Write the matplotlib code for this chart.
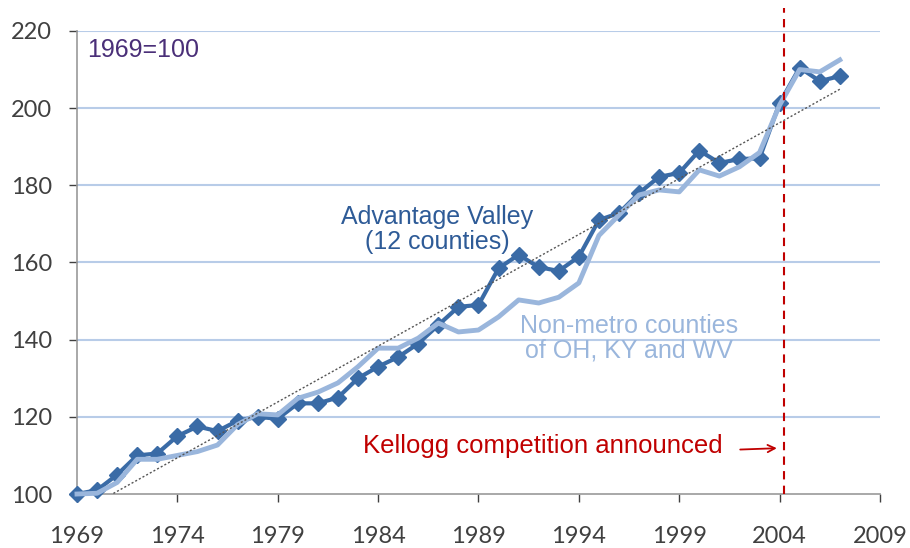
"""Advantage Valley vs non-metro counties index chart (1969=100)."""
import matplotlib
matplotlib.use("Agg")
import matplotlib.pyplot as plt
import numpy as np

years = list(range(1969, 2008))
advantage_valley = [100, 101, 105, 110, 110.5, 115, 117.5, 116.3, 119, 120, 119.5,
                    123.5, 123.5, 125, 130, 133, 135.5, 139, 143.8, 148.5, 149,
                    158.5, 162, 158.8, 157.8, 161.5, 171, 172.8, 178, 182.2, 183.2,
                    189, 185.8, 186.8, 187, 201.3, 210.5, 207, 208.3]
non_metro = [100, 100.2, 103, 109, 109, 110, 111, 112.7, 118, 120.8, 120.5,
             124.8, 126.4, 128.8, 133, 137.8, 137.8, 140.4, 144.3, 142, 142.5,
             145.9, 150.3, 149.5, 151, 154.7, 167, 172.3, 177.5, 178.8, 178.3,
             184, 182.4, 184.8, 188.5, 200.8, 210, 209.4, 212.5]
x_ticks = list(range(1969, 2010, 5))
y_ticks = list(range(100, 221, 20))
kellogg_year = 2004.2

DARK = "#3A6BA6"
LIGHT = "#9AB6DC"
RED = "#C00000"

fig = plt.figure(figsize=(9.1, 5.48), dpi=100)
ax = fig.add_axes([0.0846, 0.0985, 0.8824, 0.845])

for y in y_ticks[1:]:
    ax.axhline(y, color="#B8CCE8", lw=1.5, zorder=0)

ax.plot(years, advantage_valley, color=DARK, lw=3, marker="D", ms=8,
        clip_on=False, zorder=3)
ax.plot(years, non_metro, color=LIGHT, lw=3.5, clip_on=False, zorder=4)

# linear trend of the Advantage Valley series
slope, icpt = np.polyfit(years, advantage_valley, 1)
tx = np.array([years[0], years[-1]])
ax.plot(tx, slope * tx + icpt, color="#555555", lw=1, ls=(0, (1.5, 1.5)),
        zorder=5)

ax.plot([kellogg_year, kellogg_year], [100, 226], color=RED, lw=1.5,
        ls=(0, (4, 3)), clip_on=False, zorder=6)

ax.set_xlim(1969, 2009)
ax.set_ylim(100, 220)
ax.set_xticks(x_ticks)
ax.set_yticks(y_ticks)
ax.tick_params(axis="both", labelsize=17, colors="#404040", length=6,
               width=1, direction="out")
ax.tick_params(axis="x", pad=17)
ax.tick_params(axis="y", pad=12)
for lab in ax.get_xticklabels() + ax.get_yticklabels():
    lab.set_family("Lato")
for s in ("top", "right"):
    ax.spines[s].set_visible(False)
for s in ("left", "bottom"):
    ax.spines[s].set_color("#999999")
    ax.spines[s].set_linewidth(1.2)

font = "Liberation Sans"
ax.text(1969.5, 215.1, "1969=100", color="#4A2F78", fontsize=18, family=font,
        va="center")
ax.text(1986.95, 168.6, "Advantage Valley\n(12 counties)", color="#2E5B97",
        fontsize=18, family=font, ha="center", va="center", linespacing=1.05)
ax.text(1996.5, 140.4, "Non-metro counties\nof OH, KY and WV", color=LIGHT,
        fontsize=18, family=font, ha="center", va="center", linespacing=1.05)
ax.text(1992.2, 112.4, "Kellogg competition announced", color=RED,
        fontsize=18.5, family=font, ha="center", va="center")
ax.annotate("", xy=(2004.0, 111.9), xytext=(2001.9, 111.5),
            arrowprops=dict(arrowstyle="->", color=RED, lw=1.3,
                            mutation_scale=13))

fig.savefig("out.png", dpi=100)
